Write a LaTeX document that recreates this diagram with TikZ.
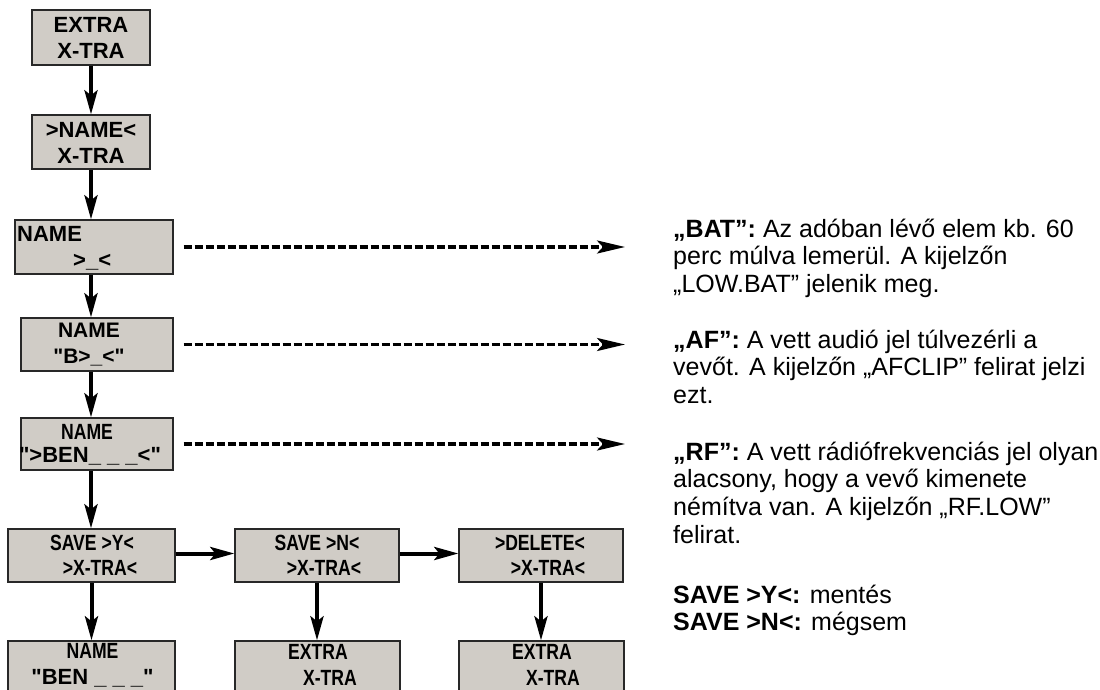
\documentclass[tikz,border=0pt]{standalone}
\usepackage{fontspec}
\setmainfont{Liberation Sans}
\newfontfamily\narrowfont{Liberation Sans}[FakeStretch=0.8]
\usetikzlibrary{arrows.meta}
\definecolor{boxfill}{RGB}{208,204,198}
\definecolor{boxline}{RGB}{40,40,40}
\newcommand{\dq}{\textquotedbl}
\tikzset{
  box/.style={draw=boxline, fill=boxfill, line width=1.3pt, inner sep=0pt, rectangle},
  boxtxt/.style={align=center, inner sep=0pt, font=\fontsize{22}{26}\selectfont\bfseries},
  nar/.style={font=\fontsize{22}{25}\selectfont\narrowfont\bfseries},
  flow/.style={line width=4pt, -{Stealth[length=24pt,width=13pt,inset=5pt]}},
  dasharr/.style={line width=3.2pt, dash pattern=on 8pt off 3pt, -{Stealth[length=28pt,width=13pt,inset=6pt]}},
  note/.style={anchor=base west, inner sep=0pt, font=\fontsize{25}{27.8}\selectfont}
}
\begin{document}
\begin{tikzpicture}[x=1pt,y=-1pt]
\fill[white] (0,0) rectangle (1100,690);
\useasboundingbox (0,0) rectangle (1100,690);
\clip (0,0) rectangle (1100,690);

% boxes
\node[box, minimum width=118pt, minimum height=55pt] (b1) at (91,37.5) {};
\node[box, minimum width=118pt, minimum height=54pt] (b2) at (91,142) {};
\node[box, minimum width=158pt, minimum height=54pt] (b3) at (94,247) {};
\node[box, minimum width=152pt, minimum height=53pt] (b4) at (97,344.5) {};
\node[box, minimum width=152pt, minimum height=52pt] (b5) at (97,444) {};
\node[box, minimum width=167pt, minimum height=53pt] (b6) at (91.5,555.5) {};
\node[box, minimum width=167pt, minimum height=58pt] (b7) at (91.5,670) {};
\node[box, minimum width=164pt, minimum height=53pt] (b8) at (317,555.5) {};
\node[box, minimum width=165pt, minimum height=58pt] (b9) at (317.5,670) {};
\node[box, minimum width=164pt, minimum height=53pt] (b10) at (541,555.5) {};
\node[box, minimum width=165pt, minimum height=58pt] (b11) at (541.5,670) {};

% box texts
\node[boxtxt] (t1) at (91,37.5) {EXTRA\\X-TRA};
\node[boxtxt] (t2) at (91,142.5) {>NAME<\\X-TRA};
\node[boxtxt, align=left, anchor=west] (t3) at (17,248.5) {NAME\\\makebox[56pt]{}>\_<};
\node[boxtxt, font=\fontsize{21}{26}\selectfont\bfseries] (t4) at (89,345) {NAME\\\dq B>\_<\dq};
\node[boxtxt, font=\fontsize{22}{23}\selectfont\bfseries] (t5) at (90,444.5) {{\narrowfont NAME}\makebox[6pt]{}\\\dq>BEN\_ \_ \_<\dq};
\node[boxtxt, nar] (t6) at (96,555.5) {SAVE >Y<\makebox[8pt]{}\\\makebox[8pt]{}>X-TRA<};
\node[boxtxt, font=\fontsize{22}{26}\selectfont\bfseries] (t7) at (92.5,665) {{\narrowfont NAME}\\\dq BEN \_ \_ \_\dq};
\node[boxtxt, nar] (t8) at (320.5,555.5) {SAVE >N<\makebox[7pt]{}\\\makebox[7pt]{}>X-TRA<};
\node[boxtxt, nar, font=\fontsize{22}{26}\selectfont\narrowfont\bfseries] (t9) at (324,665) {EXTRA\makebox[12pt]{}\\\makebox[12pt]{}X-TRA};
\node[boxtxt, nar] (t10) at (544,555.5) {>DELETE<\makebox[8pt]{}\\\makebox[8pt]{}>X-TRA<};
\node[boxtxt, nar, font=\fontsize{22}{26}\selectfont\narrowfont\bfseries] (t11) at (547.5,665) {EXTRA\makebox[11pt]{}\\\makebox[11pt]{}X-TRA};

% flow arrows
\draw[flow] (b1.south) -- (b2.north);
\draw[flow] (b2.south) -- (b2.south |- b3.north);
\draw[flow] (b2.south |- b3.south) -- (b2.south |- b4.north);
\draw[flow] (b2.south |- b4.south) -- (b2.south |- b5.north);
\draw[flow] (b2.south |- b5.south) -- (b2.south |- b6.north);
\draw[flow] (b6.south) -- (b6.south |- b7.north);
\draw[flow] (b8.south) -- (b8.south |- b9.north);
\draw[flow] (b10.south) -- (b10.south |- b11.north);
\draw[flow] ([yshift=2pt]b6.east) -- ([yshift=2pt]b8.west);
\draw[flow] ([yshift=2pt]b8.east) -- ([yshift=2pt]b10.west);

% dashed arrows
\coordinate (d1) at (625,247);
\coordinate (d2) at (625,344.5);
\coordinate (d3) at (625,444);
\draw[dasharr] ([xshift=10pt]b3.east) -- (d1);
\draw[dasharr] ([xshift=10pt]b4.east) -- (d2);
\draw[dasharr] ([xshift=10pt]b5.east) -- (d3);

% notes
\node[note] (n1) at (673,237) {\begin{tabular}[t]{@{}l@{}}
{\bfseries „BAT”:} Az adóban lévő elem kb. 60\\
perc múlva lemerül. A kijelzőn\\
„LOW.BAT” jelenik meg.
\end{tabular}};
\node[note] (n2) at (673,348) {\begin{tabular}[t]{@{}l@{}}
{\bfseries „AF”:} A vett audió jel túlvezérli a\\
vevőt. A kijelzőn „AFCLIP” felirat jelzi\\
ezt.
\end{tabular}};
\node[note] (n3) at (673,460) {\begin{tabular}[t]{@{}l@{}}
{\bfseries „RF”:} A vett rádiófrekvenciás jel olyan\\
alacsony, hogy a vevő kimenete\\
némítva van. A kijelzőn „RF.LOW”\\
felirat.
\end{tabular}};
\node[note] (n4) at (673,603) {\begin{tabular}[t]{@{}l@{}}
{\bfseries SAVE >Y<:} mentés\\
{\bfseries SAVE >N<:} mégsem
\end{tabular}};
\end{tikzpicture}
\end{document}
